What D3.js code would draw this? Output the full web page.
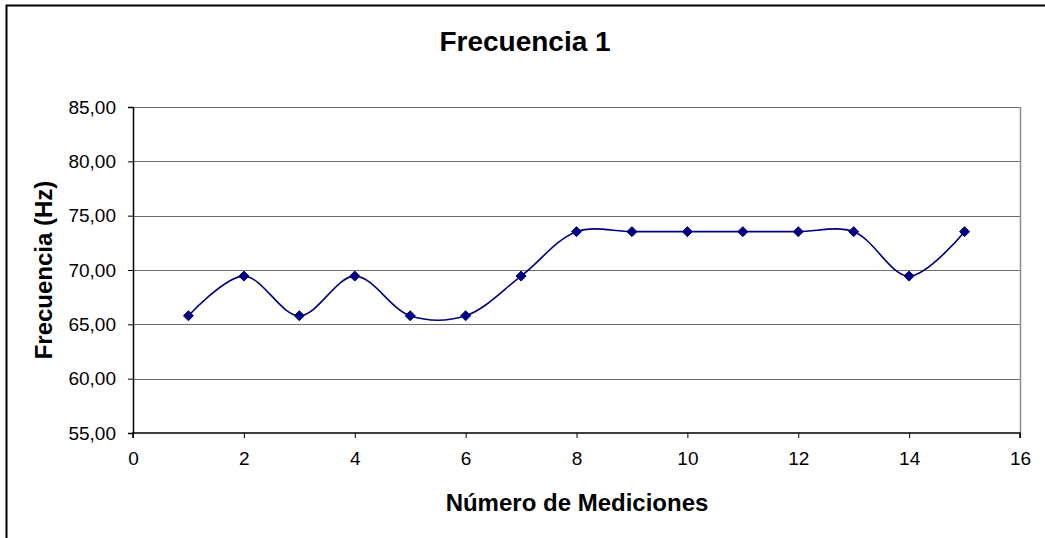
<!DOCTYPE html>
<html>
<head>
<meta charset="utf-8">
<script src="https://cdn.jsdelivr.net/npm/d3@7/dist/d3.min.js"></script>
<style>
  html, body { margin: 0; padding: 0; background: #fff; }
  svg { display: block; font-family: "Liberation Sans", Arial, sans-serif; }
</style>
</head>
<body>
<svg id="chart" width="1045" height="538"></svg>
<script>
// Measurement number and measured frequency (Hz)
const mediciones = [1, 2, 3, 4, 5, 6, 7, 8, 9, 10, 11, 12, 13, 14, 15];
const frecuencia = [65.79, 69.44, 65.79, 69.44, 65.79, 65.79, 69.44, 73.53, 73.53, 73.53, 73.53, 73.53, 73.53, 69.44, 73.53];
const xTicks = [0, 2, 4, 6, 8, 10, 12, 14, 16];
const yTicks = [55, 60, 65, 70, 75, 80, 85];

const titulo = "Frecuencia 1";
const tituloX = "Número de Mediciones";
const tituloY = "Frecuencia (Hz)";

const svg = d3.select("#chart");
const W = 1045, H = 538;
const plot = { left: 133, right: 1020, top: 107, bottom: 433 };

// Outer chart frame (left and top edges visible)
svg.append("path")
  .attr("d", `M6.5,${H} V5.5 H${W}`)
  .attr("fill", "none").attr("stroke", "#000").attr("stroke-width", 2);

const x = d3.scaleLinear().domain([0, 16]).range([plot.left, plot.right]);
const y = d3.scaleLinear().domain([55, 85]).range([plot.bottom, plot.top]);
const fmt = v => d3.format(".2f")(v).replace(".", ",");

// Horizontal gridlines
svg.append("g")
  .selectAll("line")
  .data(yTicks.filter(v => v > 55))
  .join("line")
  .attr("x1", plot.left).attr("x2", plot.right)
  .attr("y1", d => Math.round(y(d)) + 0.5).attr("y2", d => Math.round(y(d)) + 0.5)
  .attr("stroke", "#6e6e6e").attr("stroke-width", 1);

// Right edge of plot area
svg.append("line")
  .attr("x1", plot.right + 0.5).attr("x2", plot.right + 0.5)
  .attr("y1", plot.top).attr("y2", plot.bottom)
  .attr("stroke", "#8a8a8a").attr("stroke-width", 1.5);

// Y axis
const yAxis = svg.append("g")
  .attr("transform", `translate(${plot.left},0)`)
  .call(d3.axisLeft(y).tickValues(yTicks).tickFormat(fmt).tickSize(5).tickPadding(12));
// X axis
const xAxis = svg.append("g")
  .attr("transform", `translate(0,${plot.bottom})`)
  .call(d3.axisBottom(x).tickValues(xTicks).tickSize(5).tickPadding(14));

[yAxis, xAxis].forEach(g => {
  g.select(".domain").attr("stroke", "#000").attr("stroke-width", 1.5);
  g.selectAll(".tick line").attr("stroke", "#000").attr("stroke-width", 1);
  g.selectAll(".tick text")
    .attr("fill", "#000")
    .style("font-family", "'Liberation Sans', Arial, sans-serif")
    .style("font-size", "19px");
});
xAxis.select(".domain").attr("d", `M${plot.left},5V0H${plot.right}V5`);

// Smoothed series line
const line = d3.line()
  .x((d, i) => x(mediciones[i]))
  .y(d => y(d))
  .curve(d3.curveCatmullRom.alpha(0.5));

svg.append("path")
  .datum(frecuencia)
  .attr("d", line)
  .attr("fill", "none")
  .attr("stroke", "#000080")
  .attr("stroke-width", 1.6);

// Diamond markers
const diamond = d3.symbol().type(d3.symbolDiamond2).size(64);
svg.append("g")
  .selectAll("path")
  .data(frecuencia)
  .join("path")
  .attr("d", diamond)
  .attr("transform", (d, i) => `translate(${x(mediciones[i])},${y(d)})`)
  .attr("fill", "#000080")
  .attr("stroke", "#000080")
  .attr("stroke-width", 1);

// Titles
svg.append("text")
  .attr("x", 525).attr("y", 51)
  .attr("text-anchor", "middle")
  .style("font-size", "28px").style("font-weight", "bold")
  .text(titulo);

svg.append("text")
  .attr("x", 577).attr("y", 511)
  .attr("text-anchor", "middle")
  .style("font-size", "24px").style("font-weight", "bold")
  .text(tituloX);

svg.append("text")
  .attr("transform", `translate(52,${(plot.top + plot.bottom) / 2}) rotate(-90)`)
  .attr("text-anchor", "middle")
  .style("font-size", "24px").style("font-weight", "bold")
  .text(tituloY);
</script>
</body>
</html>
